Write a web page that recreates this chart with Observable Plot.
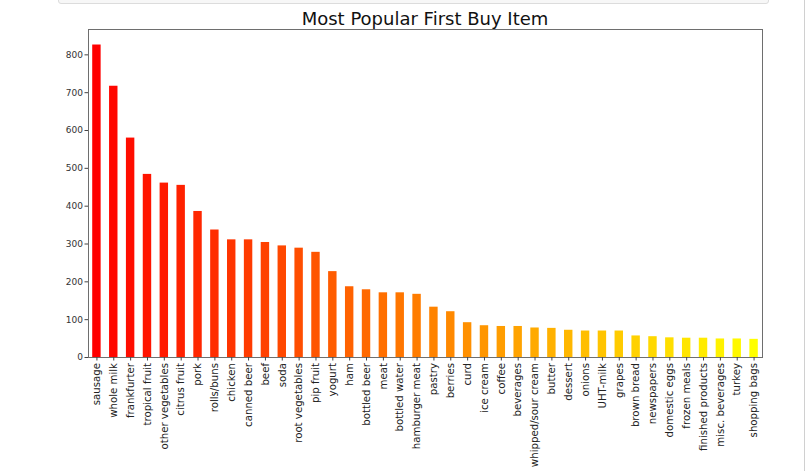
<!DOCTYPE html>
<html>
<head>
<meta charset="utf-8">
<script src="https://cdn.jsdelivr.net/npm/d3@7"></script>
<script src="https://cdn.jsdelivr.net/npm/@observablehq/plot@0.6"></script>
<style>
  html, body { margin: 0; padding: 0; background: #fff; }
  #wrap { position: relative; width: 806px; height: 471px; overflow: hidden; font-family: "DejaVu Sans", sans-serif; }
  #topbox { position: absolute; left: 58px; top: -10px; width: 709px; height: 12px; border: 1px solid #dcdcdc; border-radius: 3px; background: #f7f7f7; }
  #rline { position: absolute; left: 804px; top: 0; width: 1px; height: 471px; background: #d0d0d0; }
  #title { position: absolute; left: 88px; width: 674px; top: 8px; text-align: center; font-size: 18px; color: #111; font-family: "DejaVu Sans", sans-serif; }
  #chart { position: absolute; left: 0; top: 0; }
</style>
</head>
<body>
<div id="wrap">
  <div id="topbox"></div>
  <div id="rline"></div>
  <div id="chart"></div>
  <div id="title">Most Popular First Buy Item</div>
</div>
<script>
const items = ["sausage","whole milk","frankfurter","tropical fruit","other vegetables","citrus fruit","pork","rolls/buns","chicken","canned beer","beef","soda","root vegetables","pip fruit","yogurt","ham","bottled beer","meat","bottled water","hamburger meat","pastry","berries","curd","ice cream","coffee","beverages","whipped/sour cream","butter","dessert","onions","UHT-milk","grapes","brown bread","newspapers","domestic eggs","frozen meals","finished products","misc. beverages","turkey","shopping bags"];
const counts = [826,717,580,484,461,455,386,337,311,311,304,295,289,278,227,187,179,171,171,167,133,121,92,84,82,82,78,77,72,70,70,70,57,55,52,51,51,49,49,48];
const yTicks = [0,100,200,300,400,500,600,700,800];

const data = items.map((item, i) => ({item, count: counts[i], rank: i}));

const chart = Plot.plot({
  width: 806,
  height: 471,
  marginLeft: 88,
  marginRight: 44,
  marginTop: 29,
  marginBottom: 114,
  style: {fontFamily: "DejaVu Sans, sans-serif", background: "transparent", color: "#222"},
  x: {type: "band", domain: items, paddingInner: 0.5, paddingOuter: 0.25, label: null},
  y: {domain: [0, 867], label: null},
  color: {type: "linear", domain: [0, items.length - 1], range: ["#ff0000", "#ffff00"]},
  marks: [
    Plot.barY(data, {x: "item", y: "count", fill: "rank"}),
    Plot.frame({stroke: "#6e6e6e", strokeWidth: 1}),
    Plot.axisY({ticks: yTicks, tickSize: 3.5, tickPadding: 2, fontSize: 9, stroke: "#444", fill: "#333"}),
    Plot.axisX({tickSize: 3.5, tickPadding: 2, tickRotate: -90, fontSize: 10.2, stroke: "#444", fill: "#222"})
  ]
});
document.getElementById("chart").appendChild(chart);
</script>
</body>
</html>
